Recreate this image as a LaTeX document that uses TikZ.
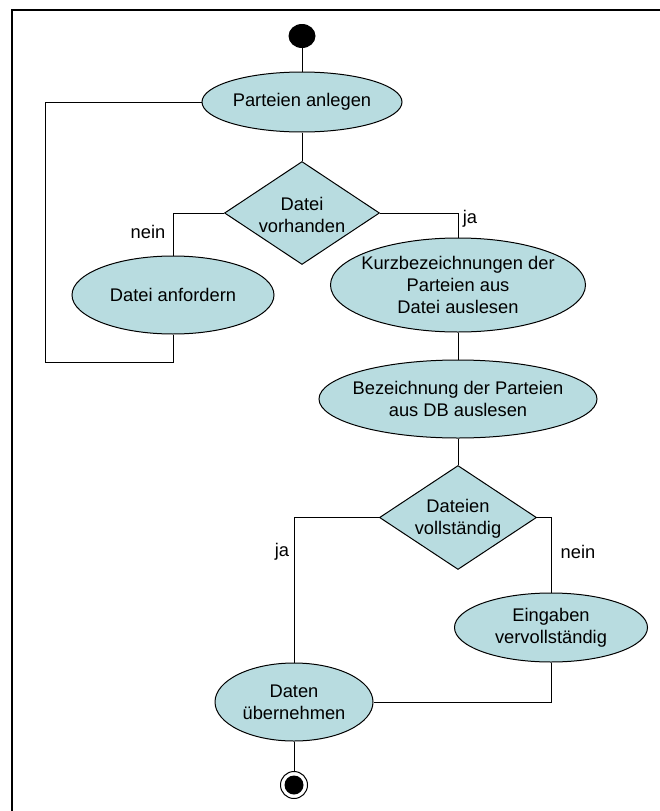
\documentclass[tikz,border=0pt]{standalone}
\usepackage{fontspec}
\setmainfont{Liberation Sans}
\usetikzlibrary{shapes.geometric}
\definecolor{actfill}{RGB}{184,220,224}
\begin{document}
\begin{tikzpicture}[x=1pt,y=-1pt,
  every node/.style={font=\fontsize{18.3}{22}\selectfont},
  act/.style={ellipse, draw, line width=1pt, fill=actfill, inner sep=0pt},
  dec/.style={diamond, draw, line width=1pt, fill=actfill, inner sep=0pt},
  txt/.style={align=center, inner sep=0pt},
  lbl/.style={inner sep=0pt},
  flow/.style={draw, line width=1pt}]
\useasboundingbox (0,0) rectangle (660,811);
% page frame (top and left edges)
\draw[line width=2pt] (12,811) -- (12,10) -- (660,10);

% start and end states
\node[ellipse, fill=black, minimum width=27pt, minimum height=24pt, inner sep=0pt] (start) at (302,36) {};
\node[circle, draw, line width=1pt, fill=white, minimum size=27pt, inner sep=0pt] (fin) at (294,785) {};
\node[circle, fill=black, minimum size=19pt, inner sep=0pt] (fincore) at (fin.center) {};

% activities
\node[act, minimum width=200pt, minimum height=60pt] (anlegen) at (302,102) {};
\node[txt] (anlegen-t) at (anlegen.center) {Parteien anlegen};

\node[dec, minimum width=155pt, minimum height=103pt] (d1) at (302,213) {};
\node[txt] (d1-t) at (302,214.5) {Datei\\vorhanden};

\node[act, minimum width=202pt, minimum height=78pt] (dal) at (173,295) {};
\node[txt] (dal-t) at (dal.center) {Datei anfordern};

\node[act, minimum width=255pt, minimum height=94pt] (kurz) at (458,285) {};
\node[txt] (kurz-t) at (kurz.center) {Kurzbezeichnungen der\\Parteien aus\\Datei auslesen};

\node[act, minimum width=278pt, minimum height=78pt] (bez) at (458,399) {};
\node[txt] (bez-t) at (bez.center) {Bezeichnung der Parteien\\aus DB auslesen};

\node[dec, minimum width=157pt, minimum height=104pt] (d2) at (458,517.5) {};
\node[txt] (d2-t) at (458,519) {Dateien\\vollständig};

\node[act, minimum width=193pt, minimum height=69pt] (ein) at (551,627.5) {};
\node[txt] (ein-t) at (ein.center) {Eingaben\\vervollständig};

\node[act, minimum width=158pt, minimum height=78pt] (daten) at (294,702) {};
\node[txt] (daten-t) at (daten.center) {Daten\\übernehmen};

% guard labels
\node[lbl] (l-nein1) at (148,232) {nein};
\node[lbl] (l-ja1) at (470,219) {ja};
\node[lbl] (l-ja2) at (282,552) {ja};
\node[lbl] (l-nein2) at (578,552) {nein};

% connectors
\coordinate (loopTL) at (45,102);
\coordinate (loopBL) at (45,362);
\draw[flow] (start) -- (anlegen);
\draw[flow] (anlegen) -- (d1);
\draw[flow] (d1.west) -| (dal.north);
\draw[flow] (d1.east) -| (kurz.north);
\draw[flow] (anlegen.west) -- (loopTL) -- (loopBL) -| (dal.south);
\draw[flow] (kurz) -- (bez);
\draw[flow] (bez) -- (d2);
\draw[flow] (d2.west) -| (daten.north);
\draw[flow] (d2.east) -| (ein.north);
\draw[flow] (ein.south) |- (daten.east);
\draw[flow] (daten) -- (fin);
\end{tikzpicture}
\end{document}
